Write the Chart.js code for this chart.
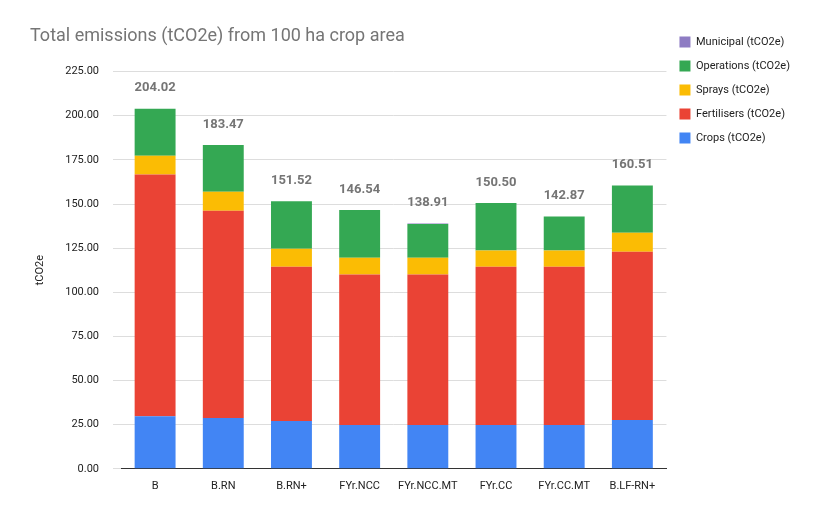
<!DOCTYPE html>
<html>
<head>
<meta charset="utf-8">
<script src="https://cdn.jsdelivr.net/npm/chart.js@4.4.0/dist/chart.umd.min.js"></script>
<style>
  html, body { margin: 0; padding: 0; background: #fff; }
  #wrap { width: 822px; height: 518px; position: relative; }
</style>
</head>
<body>
<div id="wrap"><canvas id="barChart"></canvas></div>
<script>
var categories = ["B", "B.RN", "B.RN+", "FYr.NCC", "FYr.NCC.MT", "FYr.CC", "FYr.CC.MT", "B.LF-RN+"];
var crops      = [29.7, 28.8, 27.1, 24.8, 24.8, 24.8, 24.8, 27.6];
var fertilisers = [137.0, 117.4, 87.3, 85.2, 85.2, 89.6, 89.6, 95.4];
var sprays     = [10.7, 10.7, 10.3, 9.6, 9.6, 9.2, 9.2, 10.7];
var operations = [26.62, 26.57, 26.82, 26.94, 19.01, 26.9, 19.27, 26.71];
var municipal  = [0, 0, 0, 0, 0.3, 0, 0, 0.1];
var totals     = ["204.02", "183.47", "151.52", "146.54", "138.91", "150.50", "142.87", "160.51"];

var totalLabels = {
    id: 'totalLabels',
    afterDatasetsDraw: function (chart) {
        var ctx = chart.ctx;
        var meta = chart.getDatasetMeta(4);
        ctx.save();
        ctx.font = 'bold 13px Roboto';
        ctx.fillStyle = '#757575';
        ctx.textAlign = 'center';
        ctx.textBaseline = 'bottom';
        meta.data.forEach(function (bar, i) {
            var topY = chart.getDatasetMeta(3).data[i].y;
            ctx.fillText(totals[i], bar.x, Math.min(bar.y, topY) - 14);
        });
        ctx.restore();
    }
};

var barData = {
    labels: categories,
    datasets: [
        { label: "Crops (tCO2e)", backgroundColor: '#4285F4', data: crops },
        { label: "Fertilisers (tCO2e)", backgroundColor: '#EA4335', data: fertilisers },
        { label: "Sprays (tCO2e)", backgroundColor: '#FBBC04', data: sprays },
        { label: "Operations (tCO2e)", backgroundColor: '#34A853', data: operations },
        { label: "Municipal (tCO2e)", backgroundColor: '#8E7CC3', data: municipal }
    ]
};

var barOptions = {
    responsive: true,
    maintainAspectRatio: false,
    animation: false,
    layout: { padding: { left: 30, right: 22, top: 14, bottom: 22 } },
    datasets: { bar: { barPercentage: 0.6, categoryPercentage: 1.0 } },
    plugins: {
        title: {
            display: true, text: 'Total emissions (tCO2e) from 100 ha crop area',
            align: 'start', color: '#757575',
            font: { family: 'Roboto', size: 18, weight: 'normal' },
            padding: { top: 12, bottom: 24 }
        },
        legend: {
            position: 'right', reverse: true, align: 'start',
            title: { display: true, text: ' ', padding: { top: 0, bottom: 0 }, font: { size: 8 } },
            labels: {
                usePointStyle: true, pointStyle: 'rect', boxWidth: 11, boxHeight: 11,
                color: '#222', padding: 13,
                font: { family: 'Roboto', size: 11 }
            }
        },
        tooltip: { enabled: false }
    },
    scales: {
        x: {
            stacked: true,
            grid: { display: false },
            border: { color: '#333' },
            ticks: { color: '#222', font: { family: 'Roboto', size: 11 }, maxRotation: 0 }
        },
        y: {
            stacked: true, min: 0, max: 225,
            title: { display: true, text: 'tCO2e', color: '#222', font: { family: 'Roboto', size: 11 } },
            grid: { color: '#dddddd' },
            border: { display: false },
            ticks: {
                stepSize: 25, color: '#222', padding: 14,
                font: { family: 'Roboto', size: 11 },
                callback: function (v) { return v.toFixed(2); }
            }
        }
    }
};

var ctx2 = document.getElementById("barChart").getContext("2d");
new Chart(ctx2, { type: 'bar', data: barData, options: barOptions, plugins: [totalLabels] });
</script>
</body>
</html>
